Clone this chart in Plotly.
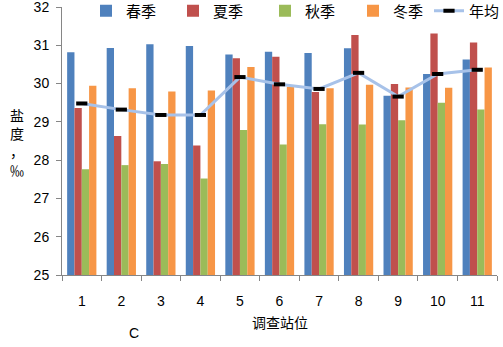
import plotly.graph_objects as go

stations = ["1", "2", "3", "4", "5", "6", "7", "8", "9", "10", "11"]
spring = [30.82, 30.93, 31.03, 30.98, 30.76, 30.83, 30.80, 30.92, 29.68, 30.25, 30.63]
summer = [29.36, 28.63, 27.97, 28.38, 30.66, 30.70, 29.78, 31.27, 29.99, 31.31, 31.07]
autumn = [27.76, 27.87, 27.90, 27.52, 28.79, 28.41, 28.94, 28.93, 29.04, 29.50, 29.32]
winter = [29.94, 29.88, 29.79, 29.82, 30.43, 29.92, 29.88, 29.97, 29.90, 29.89, 30.42]
annual = [29.48, 29.32, 29.18, 29.18, 30.17, 29.98, 29.86, 30.28, 29.66, 30.25, 30.36]

series_names = ["春季", "夏季", "秋季", "冬季", "年均"]
colors = ["#4F81BD", "#C0504D", "#9BBB59", "#F79646"]
legend_ids = ["legend", "legend2", "legend3", "legend4", "legend5"]

PL, PR, PT, PB = 62, 497, 7, 275
PW, PH = PR - PL, PB - PT

def px_x(x):
    return (x - PL) / PW

def px_y(y):
    return (PB - y) / PH

fig = go.Figure()
for name, vals, c, lg in zip(series_names[:4], [spring, summer, autumn, winter], colors, legend_ids):
    fig.add_trace(go.Bar(x=stations, y=[v - 25 for v in vals], base=25, name=name,
                         marker=dict(color=c, line=dict(width=0)), legend=lg))

fig.add_trace(go.Scatter(x=stations, y=annual, name=series_names[4], mode="lines+markers",
                         line=dict(color="#A7C2E9", width=3), legend=legend_ids[4],
                         marker=dict(symbol="line-ew", size=8, color="black",
                                     line=dict(color="black", width=4))))

text_starts = [116, 203, 295, 383, 471]
text_offsets = [30, 30, 30, 30, 42]
legends = {}
for lg, ts, off in zip(legend_ids, text_starts, text_offsets):
    legends[lg] = dict(orientation="h", x=px_x(ts - off), y=px_y(11), xanchor="left",
                       yanchor="middle", font=dict(family="Noto Sans CJK SC", size=15),
                       bgcolor="rgba(0,0,0,0)", itemwidth=30)

fig.update_layout(
    width=503, height=347, showlegend=True,
    margin=dict(l=PL, r=503 - PR, t=PT, b=347 - PB, autoexpand=False),
    paper_bgcolor="white", plot_bgcolor="white",
    barmode="group", bargap=0.26, bargroupgap=0,
    font=dict(family="Liberation Sans", size=13, color="black"),
    xaxis=dict(range=[-0.5, 10.5], showline=True, linecolor="#868686", linewidth=1,
               ticks="outside", tickson="boundaries", ticklen=5, tickcolor="#868686",
               showgrid=False, ticklabelstandoff=13, automargin=False,
               ticklabeloverflow="allow",
               tickfont=dict(family="Liberation Sans", size=14)),
    yaxis=dict(range=[25, 32], dtick=1, showline=True, linecolor="#868686", linewidth=1,
               ticks="outside", ticklen=5, tickcolor="#868686", showgrid=False,
               ticklabelstandoff=4, automargin=False, ticklabeloverflow="allow",
               tickfont=dict(family="Liberation Sans", size=14)),
    annotations=[
        dict(text="盐<br>度<br>，<br>‰", xref="paper", yref="paper", x=px_x(8), y=px_y(142),
             xanchor="left", yanchor="middle", showarrow=False, align="left",
             font=dict(family="Noto Sans CJK SC", size=14)),
        dict(text="调查站位", xref="paper", yref="paper", x=px_x(280), y=px_y(322),
             xanchor="center", yanchor="middle", showarrow=False,
             font=dict(family="Noto Sans CJK SC", size=14)),
        dict(text="C", xref="paper", yref="paper", x=px_x(134), y=px_y(333),
             xanchor="center", yanchor="middle", showarrow=False,
             font=dict(family="Liberation Sans", size=14)),
    ],
    **legends,
)

fig.write_html("out.html", config={"displayModeBar": False},
               post_script="document.body.style.margin='0';document.body.style.overflow='hidden';")
